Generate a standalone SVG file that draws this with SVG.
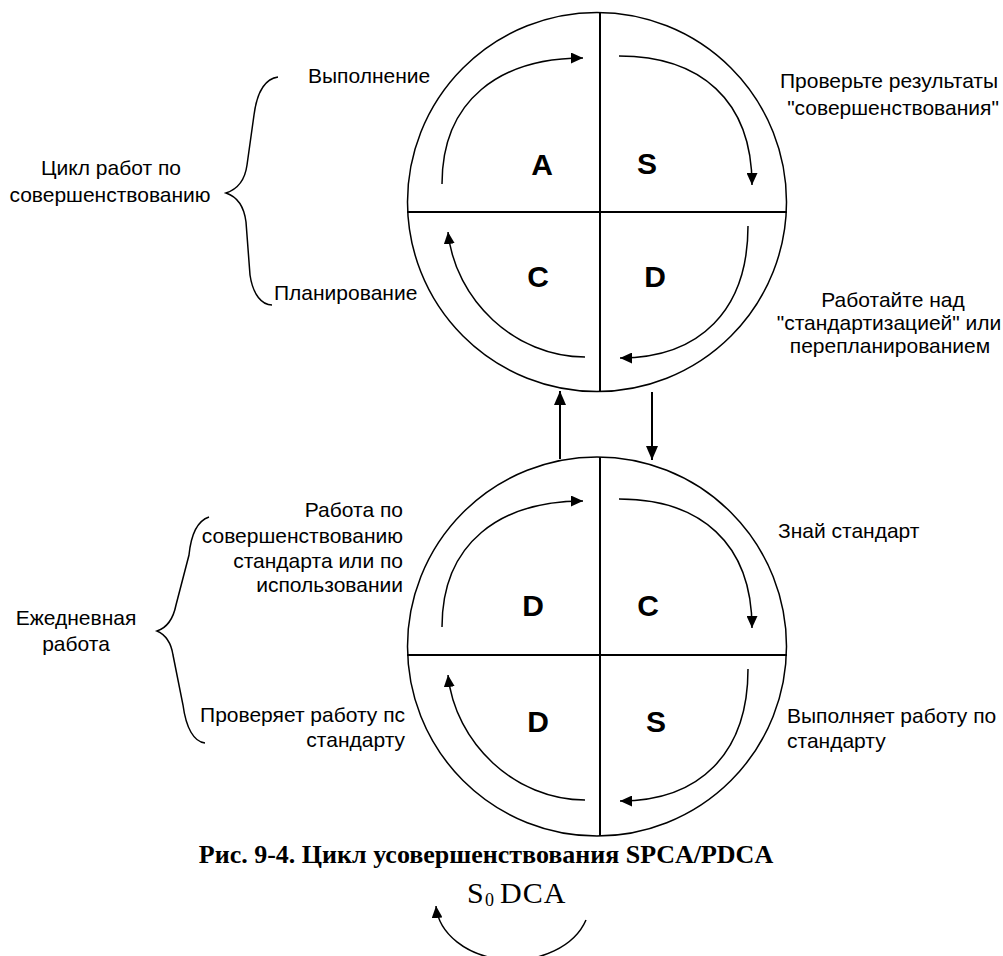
<svg xmlns="http://www.w3.org/2000/svg" xmlns:xlink="http://www.w3.org/1999/xlink" width="1003" height="956" viewBox="0 0 1003 956">
  <style>
    .ring{fill:none;stroke:#000;stroke-width:1.5}
    .axis{fill:none;stroke:#000;stroke-width:2}
    .flow{fill:none;stroke:#000;stroke-width:1.5;marker-end:url(#head)}
    .link{fill:none;stroke:#000;stroke-width:2;marker-end:url(#headBig)}
    .brace{fill:none;stroke:#000;stroke-width:1.5}
    .lbl{font-family:"Liberation Sans",Arial,sans-serif;font-size:21px;fill:#000}
    .mid{text-anchor:middle}
    .end{text-anchor:end}
    .q{font-family:"Liberation Sans",Arial,sans-serif;font-size:30px;font-weight:bold;fill:#000;text-anchor:middle}
    .cap{font-family:"Liberation Serif","Times New Roman",serif;font-size:26px;font-weight:bold;fill:#000;text-anchor:middle}
    .formula{font-family:"Liberation Serif","Times New Roman",serif;fill:#000}
  </style>
  <defs>
    <marker id="head" viewBox="0 0 12 11" refX="12" refY="5.5" markerWidth="12" markerHeight="11" markerUnits="userSpaceOnUse" orient="auto">
      <path d="M0,0 L12,5.5 L0,11 z" fill="#000"/>
    </marker>
    <marker id="headBig" viewBox="0 0 14 12" refX="14" refY="6" markerWidth="14" markerHeight="12" markerUnits="userSpaceOnUse" orient="auto">
      <path d="M0,0 L14,6 L0,12 z" fill="#000"/>
    </marker>
    <!-- four quarter arrows running clockwise inside a cycle ring -->
    <g id="quarterArrows">
      <path class="flow" d="M442,184 C442,100 500,58 583,58"/>
      <path class="flow" d="M619,56 C700,56 752,100 752,185"/>
      <path class="flow" d="M748,226 C748,310 700,358 620,358"/>
      <path class="flow" d="M585,357 C515,357 455,300 448,232"/>
    </g>
  </defs>

  <rect width="1003" height="956" fill="#fff"/>

  <!-- upper cycle: improvement (A S / C D) -->
  <g id="cycle-improve">
    <circle class="ring" cx="597" cy="202" r="189.5"/>
    <line class="axis" x1="600" y1="13" x2="600" y2="391"/>
    <line class="axis" x1="407" y1="212" x2="787" y2="212"/>
    <use xlink:href="#quarterArrows"/>
    <text class="q" x="542" y="175">A</text>
    <text class="q" x="647" y="174">S</text>
    <text class="q" x="538" y="287">C</text>
    <text class="q" x="655" y="287">D</text>
  </g>

  <!-- lower cycle: daily work (D C / D S) -->
  <g id="cycle-daily">
    <circle class="ring" cx="597" cy="646.5" r="189.5"/>
    <line class="axis" x1="600" y1="457" x2="600" y2="836"/>
    <line class="axis" x1="407" y1="655" x2="787" y2="655"/>
    <use xlink:href="#quarterArrows" transform="translate(0,443)"/>
    <text class="q" x="533" y="616">D</text>
    <text class="q" x="648" y="616">C</text>
    <text class="q" x="538" y="732">D</text>
    <text class="q" x="656" y="732">S</text>
  </g>

  <!-- links between the two cycles -->
  <g id="connectors">
    <line class="link" x1="560" y1="459" x2="560" y2="391"/>
    <line class="link" x1="652" y1="392" x2="652" y2="460"/>
  </g>

  <!-- upper cycle annotations -->
  <g id="labels-improve">
    <path class="brace" d="M278,77 C264,79 257,92 254,115 L247,165 C245,180 238,189 226,193 C238,197 244,206 246,222 L250,275 C253,295 262,305 272,305"/>
    <text class="lbl" x="308" y="83">Выполнение</text>
    <text class="lbl mid" x="111" y="175">Цикл работ по</text>
    <text class="lbl mid" x="110" y="202">совершенствованию</text>
    <text class="lbl" x="274" y="300">Планирование</text>
    <text class="lbl mid" x="889" y="88">Проверьте результаты</text>
    <text class="lbl mid" x="893" y="115">"совершенствования"</text>
    <text class="lbl mid" x="893" y="307">Работайте над</text>
    <text class="lbl mid" x="889" y="330">"стандартизацией" или</text>
    <text class="lbl mid" x="890" y="353">перепланированием</text>
  </g>

  <!-- lower cycle annotations -->
  <g id="labels-daily">
    <path class="brace" d="M209,517 C197,521 191,535 189,555 L176,605 C173,620 166,628 157,631 C166,635 171,642 173,655 L183,705 C186,728 194,742 205,743"/>
    <text class="lbl end" x="403" y="517">Работа по</text>
    <text class="lbl end" x="403" y="543">совершенствованию</text>
    <text class="lbl end" x="403" y="568">стандарта или по</text>
    <text class="lbl end" x="403" y="592">использовании</text>
    <text class="lbl mid" x="76" y="625">Ежедневная</text>
    <text class="lbl mid" x="76" y="651">работа</text>
    <text class="lbl end" x="405" y="722">Проверяет работу пс</text>
    <text class="lbl end" x="405" y="747">стандарту</text>
    <text class="lbl" x="778" y="538">Знай стандарт</text>
    <text class="lbl" x="787" y="723">Выполняет работу по</text>
    <text class="lbl" x="787" y="748">стандарту</text>
  </g>

  <!-- caption and the S0 DCA loop -->
  <g id="caption">
    <text class="cap" x="486" y="863">Рис. 9-4. Цикл усовершенствования SPCA/PDCA</text>
    <text class="formula" x="467" y="903" font-size="30">S</text>
    <text class="formula" x="485" y="906" font-size="18">0</text>
    <text class="formula" x="500" y="903" font-size="30" letter-spacing="1">DCA</text>
    <path class="flow" d="M586,920 A77,58 0 0 1 436,906"/>
  </g>
</svg>
